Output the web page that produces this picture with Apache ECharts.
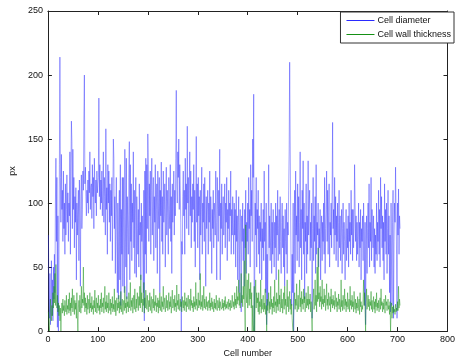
<!DOCTYPE html>
<html>
<head>
<meta charset="utf-8">
<script src="https://cdn.jsdelivr.net/npm/echarts@6/dist/echarts.min.js"></script>
<style>
  html, body { margin: 0; padding: 0; background: #fff; }
  #chart { width: 458px; height: 363px; }
</style>
</head>
<body>
<div id="chart"></div>
<script>
// Measurements per cell, in pixels
const cellDiameter = [
  75, 30, 10, 45, 5, 20, 55, 12, 40, 8,
  50, 25, 60, 30, 100, 135, 70, 120, 3, 90,
  0, 40, 130, 214, 120, 85, 138, 95, 110, 70,
  125, 80, 100, 60, 115, 75, 95, 122, 85, 108,
  70, 100, 90, 140, 60, 125, 164, 148, 80, 142,
  95, 120, 65, 105, 85, 112, 40, 100, 75, 95,
  110, 55, 118, 90, 35, 105, 122, 80, 95, 125,
  110, 165, 200, 115, 128, 105, 90, 110, 100, 118,
  92, 125, 108, 140, 95, 112, 115, 88, 130, 105,
  120, 80, 135, 110, 100, 118, 90, 125, 108, 115,
  120, 182, 105, 130, 95, 118, 100, 125, 90, 110,
  140, 85, 120, 105, 75, 158, 95, 112, 60, 130,
  100, 125, 85, 115, 70, 110, 90, 120, 55, 105,
  150, 135, 80, 105, 45, 95, 120, 70, 30, 100,
  25, 85, 110, 40, 130, 20, 95, 60, 120, 35,
  120, 75, 30, 142, 90, 50, 135, 25, 105, 80,
  60, 120, 148, 40, 130, 70, 115, 55, 100, 85,
  140, 65, 110, 45, 95, 120, 42, 105, 80, 60,
  95, 50, 115, 75, 85, 40, 100, 70, 90, 60,
  30, 110, 8, 125, 60, 135, 45, 130, 80, 154,
  130, 70, 115, 90, 125, 60, 110, 135, 75, 100,
  120, 55, 105, 85, 130, 65, 95, 115, 45, 125,
  100, 80, 120, 30, 110, 90, 132, 70, 105, 60,
  125, 85, 95, 115, 50, 100, 128, 75, 110, 90,
  60, 120, 95, 80, 130, 70, 105, 45, 115, 85,
  100, 125, 75, 110, 90, 135, 188, 115, 100, 140,
  120, 150, 95, 130, 110, 85, 0, 70, 60, 105,
  125, 90, 110, 60, 135, 95, 115, 80, 160, 100,
  120, 75, 110, 140, 90, 125, 65, 105, 85, 115,
  95, 130, 70, 110, 50, 100, 152, 85, 115, 65,
  120, 90, 105, 40, 110, 75, 95, 128, 60, 100,
  85, 115, 70, 120, 90, 35, 105, 80, 95, 110,
  60, 100, 85, 125, 70, 105, 90, 45, 95, 80,
  110, 65, 100, 90, 75, 125, 85, 40, 120, 95,
  70, 110, 90, 142, 40, 100, 80, 115, 60, 95,
  105, 75, 90, 115, 65, 100, 85, 120, 55, 95,
  80, 110, 70, 100, 90, 125, 60, 95, 75, 105,
  85, 60, 100, 75, 95, 50, 110, 70, 90, 40,
  85, 105, 30, 75, 95, 60, 15, 90, 70, 100,
  55, 80, 35, 95, 65, 110, 45, 85, 70, 100,
  60, 120, 80, 95, 50, 130, 90, 110, 70, 150,
  120, 185, 0, 40, 100, 75, 120, 50, 95, 80,
  110, 60, 90, 45, 85, 70, 100, 40, 80, 65,
  95, 55, 125, 70, 85, 30, 100, 5, 60, 20,
  80, 130, 65, 90, 55, 75, 100, 45, 85, 60,
  95, 70, 50, 85, 65, 100, 40, 90, 75, 110,
  55, 80, 95, 60, 105, 70, 45, 85, 100, 65,
  90, 50, 80, 35, 95, 70, 60, 100, 45, 85,
  75, 110, 140, 210, 150, 90, 40, 20, 60, 30,
  100, 0, 60, 110, 45, 125, 75, 90, 55, 115,
  70, 105, 50, 85, 140, 65, 95, 40, 110, 80,
  133, 60, 100, 25, 85, 70, 115, 45, 90, 60,
  133, 75, 95, 110, 55, 85, 65, 100, 10, 80,
  120, 55, 90, 70, 105, 45, 130, 60, 85, 75,
  100, 50, 80, 65, 95, 40, 75, 90, 55, 85,
  70, 100, 60, 120, 45, 80, 95, 125, 70, 110,
  60, 90, 115, 50, 85, 75, 100, 65, 110, 163,
  80, 95, 60, 120, 75, 105, 55, 90, 70, 100,
  50, 85, 110, 65, 90, 55, 75, 95, 45, 80,
  100, 60, 85, 70, 40, 75, 95, 55, 80, 65,
  90, 50, 100, 70, 85, 60, 110, 75, 95, 55,
  95, 65, 80, 130, 100, 70, 90, 55, 85, 60,
  75, 100, 50, 85, 65, 95, 40, 80, 70, 90,
  55, 100, 75, 20, 85, 5, 60, 90, 45, 80,
  100, 65, 115, 50, 85, 70, 120, 55, 95, 75,
  65, 90, 50, 80, 45, 75, 60, 100, 55, 85,
  70, 110, 60, 95, 50, 120, 80, 105, 65, 90,
  55, 85, 40, 115, 70, 95, 60, 100, 45, 80,
  110, 60, 90, 30, 75, 15, 100, 50, 20, 85,
  110, 10, 70, 100, 85, 128, 95, 60, 10, 100,
  75, 111, 60, 90, 80
];

const wallThickness = [
  15, 5, 0, 10, 25, 15, 8, 20, 12, 30,
  18, 35, 22, 45, 20, 52, 25, 18, 28, 15,
  22, 12, 20, 8, 18, 0, 15, 22, 14, 25,
  16, 20, 12, 24, 18, 15, 28, 13, 20, 17,
  25, 14, 30, 16, 22, 12, 26, 18, 33, 15,
  20, 28, 13, 24, 17, 22, 10, 30, 12, 0,
  18, 24, 15, 28, 20, 14, 35, 18, 25, 22,
  50, 20, 30, 15, 26, 18, 22, 13, 28, 17,
  20, 25, 14, 30, 18, 22, 15, 27, 17, 20,
  13, 24, 18, 32, 15, 21, 26, 14, 22, 18,
  28, 16, 20, 13, 25, 18, 30, 15, 22, 19,
  26, 14, 21, 35, 17, 23, 15, 28, 18, 22,
  14, 30, 20, 16, 25, 13, 22, 18, 27, 15,
  21, 17, 33, 15, 24, 12, 20, 26, 16, 22,
  18, 28, 14, 23, 17, 31, 15, 21, 25, 13,
  20, 24, 16, 35, 18, 22, 14, 27, 19, 23,
  15, 30, 18, 22, 38, 16, 24, 19, 26, 14,
  21, 28, 17, 33, 20, 15, 25, 18, 30, 22,
  16, 27, 20, 35, 18, 44, 22, 30, 15, 25,
  20, 38, 14, 26, 18, 32, 22, 17, 28, 20,
  15, 24, 19, 30, 16, 22, 27, 14, 21, 25,
  18, 33, 16, 23, 20, 28, 15, 22, 19, 26,
  14, 24, 18, 30, 16, 21, 27, 15, 23, 19,
  35, 17, 22, 26, 15, 20, 28, 18, 24, 16,
  21, 30, 17, 23, 19, 27, 14, 22, 32, 18,
  20, 25, 16, 28, 19, 22, 15, 36, 20, 24,
  17, 29, 21, 16, 25, 19, 23, 15, 27, 20,
  18, 24, 16, 30, 20, 23, 15, 26, 19, 22,
  28, 17, 21, 25, 16, 33, 20, 24, 18, 22,
  15, 27, 19, 23, 17, 38, 20, 25, 16, 22,
  30, 18, 24, 20, 45, 17, 23, 19, 28, 16,
  22, 35, 18, 25, 20, 17, 27, 19, 23, 16,
  21, 24, 18, 30, 16, 22, 19, 26, 17, 23,
  20, 15, 25, 18, 22, 17, 28, 19, 16, 24,
  21, 18, 26, 16, 23, 19, 20, 17, 25, 18,
  22, 16, 24, 19, 27, 17, 21, 18, 23, 20,
  17, 25, 19, 22, 16, 24, 20, 18, 28, 21,
  19, 23, 17, 30, 20, 25, 18, 35, 21, 27,
  24, 40, 20, 30, 18, 26, 45, 22, 28, 19,
  35, 25, 55, 20, 0, 83, 30, 22, 40, 18,
  28, 45, 20, 33, 25, 38, 18, 30, 0, 20,
  5, 0, 35, 0, 25, 40, 18, 30, 22, 26,
  15, 30, 13, 23, 19, 40, 14, 25, 17, 21,
  28, 15, 22, 17, 33, 13, 20, 0, 25, 16,
  21, 30, 14, 23, 17, 35, 19, 25, 13, 22,
  18, 27, 15, 40, 20, 23, 14, 30, 19, 25,
  16, 48, 21, 28, 15, 23, 33, 18, 25, 14,
  22, 30, 17, 35, 20, 25, 13, 23, 40, 19,
  27, 15, 23, 31, 17, 25, 13, 21, 10, 3,
  0, 15, 23, 30, 17, 25, 20, 37, 15, 22,
  28, 17, 24, 40, 19, 26, 15, 31, 21, 25,
  17, 33, 22, 27, 15, 23, 30, 18, 25, 20,
  35, 17, 25, 21, 29, 15, 23, 10, 0, 19,
  25, 33, 17, 23, 40, 20, 28, 15, 50, 23,
  65, 25, 30, 19, 35, 23, 27, 17, 40, 21,
  25, 19, 33, 22, 28, 16, 24, 37, 20, 25,
  17, 30, 23, 20, 27, 15, 33, 21, 25, 18,
  28, 20, 24, 17, 31, 22, 19, 26, 15, 23,
  20, 29, 17, 25, 22, 15, 40, 19, 24, 16,
  28, 21, 17, 33, 20, 25, 15, 23, 19, 30,
  17, 22, 25, 15, 35, 20, 24, 17, 28, 19,
  23, 15, 31, 20, 17, 25, 14, 22, 18, 27,
  16, 21, 25, 13, 30, 19, 23, 15, 20, 17,
  25, 40, 20, 30, 15, 0, 23, 33, 17, 22,
  28, 19, 25, 16, 23, 20, 31, 17, 24, 15,
  21, 27, 17, 23, 14, 25, 19, 30, 16, 22,
  18, 24, 15, 21, 26, 17, 33, 20, 23, 15,
  22, 17, 25, 19, 14, 28, 20, 23, 16, 21,
  25, 17, 20, 13, 23, 0, 15, 22, 10, 19,
  14, 20, 15, 17, 13, 21, 15, 18, 16, 23,
  16, 35, 18, 25, 20
];

const xTicks = [0, 100, 200, 300, 400, 500, 600, 700, 800];
const yTicks = [0, 50, 100, 150, 200, 250];

// Cell numbers start at 1
const toPairs = arr => arr.map((v, i) => [i + 1, v]);

const chart = echarts.init(document.getElementById('chart'), null, { renderer: 'canvas' });

const font = 'Liberation Sans, Arial, sans-serif';
const axisCommon = {
  type: 'value',
  axisLine: { show: true, onZero: false, lineStyle: { color: '#222', width: 1 } },
  axisTick: { show: true, inside: true, length: 4, lineStyle: { color: '#222', width: 1 } },
  splitLine: { show: false }
};

chart.setOption({
  animation: false,
  backgroundColor: '#fff',
  textStyle: { fontFamily: font },
  grid: { left: 43, right: 3, top: 11, bottom: 29, containLabel: false },
  legend: {
    right: 4, top: 12,
    orient: 'vertical',
    icon: 'rect',
    itemWidth: 28, itemHeight: 1, itemGap: 5,
    borderColor: '#333', borderWidth: 1,
    backgroundColor: '#fff',
    padding: [4, 3, 4, 6],
    textStyle: { fontSize: 9, color: '#111', fontFamily: font, padding: [0, 0, 0, -2] },
    data: ['Cell diameter', 'Cell wall thickness']
  },
  xAxis: [
    Object.assign({}, axisCommon, {
      min: xTicks[0], max: xTicks[xTicks.length - 1], interval: 100,
      position: 'bottom',
      axisLabel: { fontSize: 9, color: '#111', margin: 4, fontFamily: font },
      name: 'Cell number', nameLocation: 'middle', nameGap: 17,
      nameTextStyle: { fontSize: 9, color: '#111', fontFamily: font }
    }),
    Object.assign({}, axisCommon, {
      min: xTicks[0], max: xTicks[xTicks.length - 1], interval: 100,
      position: 'top', axisLabel: { show: false }
    })
  ],
  yAxis: [
    Object.assign({}, axisCommon, {
      min: yTicks[0], max: yTicks[yTicks.length - 1], interval: 50,
      position: 'left',
      axisLabel: { fontSize: 9, color: '#111', margin: 5, fontFamily: font },
      name: 'px', nameLocation: 'middle', nameGap: 22, nameRotate: 90,
      nameTextStyle: { fontSize: 9, color: '#111', fontFamily: font }
    }),
    Object.assign({}, axisCommon, {
      min: yTicks[0], max: yTicks[yTicks.length - 1], interval: 50,
      position: 'right', axisLabel: { show: false }
    })
  ],
  series: [
    {
      name: 'Cell diameter', type: 'line',
      data: toPairs(cellDiameter),
      showSymbol: false, symbol: 'none',
      color: '#2a2aff',
      lineStyle: { color: '#2a2aff', width: 0.5, opacity: 0.85 },
      z: 2
    },
    {
      name: 'Cell wall thickness', type: 'line',
      data: toPairs(wallThickness),
      showSymbol: false, symbol: 'none',
      color: '#159015',
      lineStyle: { color: '#159015', width: 0.5, opacity: 0.9 },
      z: 3
    }
  ]
});
</script>
</body>
</html>
